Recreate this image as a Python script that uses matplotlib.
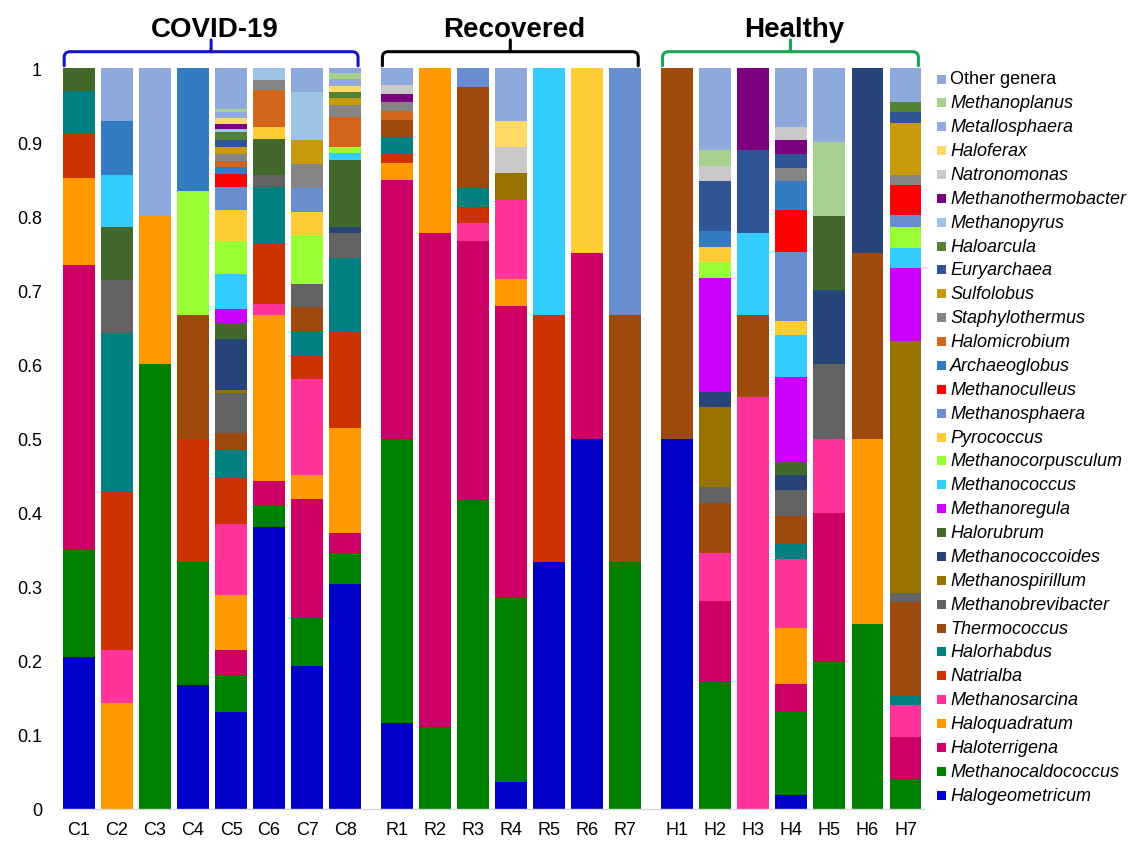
import matplotlib
matplotlib.use("Agg")
import matplotlib.pyplot as plt
from matplotlib.path import Path
from matplotlib.patches import PathPatch, Rectangle
from matplotlib.transforms import blended_transform_factory
import numpy as np

plt.rcParams['font.family'] = ['Liberation Sans', 'DejaVu Sans']

# Stacking order, bottom to top
genera = [
    "Halogeometricum", "Methanocaldococcus", "Haloterrigena", "Haloquadratum",
    "Methanosarcina", "Natrialba", "Halorhabdus", "Thermococcus",
    "Methanobrevibacter", "Methanospirillum", "Methanococcoides", "Halorubrum",
    "Methanoregula", "Methanococcus", "Methanocorpusculum", "Pyrococcus",
    "Methanosphaera", "Methanoculleus", "Archaeoglobus", "Halomicrobium",
    "Staphylothermus", "Sulfolobus", "Euryarchaea", "Haloarcula",
    "Methanopyrus", "Methanothermobacter", "Natronomonas", "Haloferax",
    "Metallosphaera", "Methanoplanus", "Other genera",
]

genus_colors = [
    "#0000C8", "#008000", "#CC0066", "#FF9900",
    "#FF3399", "#CC3300", "#008080", "#9E4A0E",
    "#636363", "#997300", "#264478", "#43682B",
    "#CC00FF", "#33CCFF", "#99FF33", "#FFCC33",
    "#698ED0", "#FF0000", "#337CC4", "#D2651A",
    "#858585", "#C99A0E", "#2F5597", "#548235",
    "#9DC3E6", "#7B0080", "#C9C9C9", "#FFD966",
    "#8FAADC", "#A9D18E", "#8EA9DB",
]

covid_samples = ["C1", "C2", "C3", "C4", "C5", "C6", "C7", "C8"]
recovered_samples = ["R1", "R2", "R3", "R4", "R5", "R6", "R7"]
healthy_samples = ["H1", "H2", "H3", "H4", "H5", "H6", "H7"]

# Relative abundance of each genus per sample
C1 = {"Halogeometricum": 0.205, "Methanocaldococcus": 0.146, "Haloterrigena": 0.383,
      "Haloquadratum": 0.118, "Natrialba": 0.060, "Halorhabdus": 0.057, "Halorubrum": 0.031}
C2 = {"Haloquadratum": 0.143, "Methanosarcina": 0.071, "Natrialba": 0.214, "Halorhabdus": 0.214,
      "Methanobrevibacter": 0.072, "Halorubrum": 0.071, "Methanococcus": 0.071,
      "Archaeoglobus": 0.072, "Other genera": 0.072}
C3 = {"Methanocaldococcus": 0.600, "Haloquadratum": 0.200, "Other genera": 0.200}
C4 = {"Halogeometricum": 0.167, "Methanocaldococcus": 0.166, "Natrialba": 0.167,
      "Thermococcus": 0.167, "Methanocorpusculum": 0.167, "Archaeoglobus": 0.166}
C5 = {"Halogeometricum": 0.131, "Methanocaldococcus": 0.050, "Haloterrigena": 0.033,
      "Haloquadratum": 0.075, "Methanosarcina": 0.096, "Natrialba": 0.062, "Halorhabdus": 0.038,
      "Thermococcus": 0.023, "Methanobrevibacter": 0.054, "Methanospirillum": 0.004,
      "Methanococcoides": 0.068, "Halorubrum": 0.022, "Methanoregula": 0.019,
      "Methanococcus": 0.047, "Methanocorpusculum": 0.044, "Pyrococcus": 0.043,
      "Methanosphaera": 0.031, "Methanoculleus": 0.017, "Archaeoglobus": 0.010,
      "Halomicrobium": 0.007, "Staphylothermus": 0.010, "Sulfolobus": 0.010,
      "Euryarchaea": 0.009, "Haloarcula": 0.010, "Methanopyrus": 0.005,
      "Methanothermobacter": 0.007, "Haloferax": 0.008, "Metallosphaera": 0.008,
      "Methanoplanus": 0.003, "Other genera": 0.056}
C6 = {"Halogeometricum": 0.380, "Methanocaldococcus": 0.030, "Haloterrigena": 0.033,
      "Haloquadratum": 0.224, "Methanosarcina": 0.015, "Natrialba": 0.080, "Halorhabdus": 0.078,
      "Methanobrevibacter": 0.016, "Halorubrum": 0.048, "Pyrococcus": 0.017,
      "Halomicrobium": 0.049, "Staphylothermus": 0.014, "Methanopyrus": 0.016}
C7 = {"Halogeometricum": 0.193, "Methanocaldococcus": 0.065, "Haloterrigena": 0.161,
      "Haloquadratum": 0.032, "Methanosarcina": 0.129, "Natrialba": 0.032, "Halorhabdus": 0.032,
      "Thermococcus": 0.033, "Methanobrevibacter": 0.032, "Methanocorpusculum": 0.065,
      "Pyrococcus": 0.032, "Methanosphaera": 0.032, "Staphylothermus": 0.032,
      "Sulfolobus": 0.033, "Methanopyrus": 0.065, "Other genera": 0.032}
C8 = {"Halogeometricum": 0.304, "Methanocaldococcus": 0.042, "Haloterrigena": 0.026,
      "Haloquadratum": 0.142, "Natrialba": 0.130, "Halorhabdus": 0.100,
      "Methanobrevibacter": 0.034, "Methanococcoides": 0.008, "Halorubrum": 0.090,
      "Methanococcus": 0.009, "Methanocorpusculum": 0.008, "Halomicrobium": 0.041,
      "Staphylothermus": 0.016, "Sulfolobus": 0.010, "Haloarcula": 0.008, "Haloferax": 0.008,
      "Metallosphaera": 0.009, "Methanoplanus": 0.008, "Other genera": 0.007}

R1 = {"Halogeometricum": 0.116, "Methanocaldococcus": 0.384, "Haloterrigena": 0.349,
      "Haloquadratum": 0.023, "Natrialba": 0.012, "Halorhabdus": 0.023, "Thermococcus": 0.023,
      "Staphylothermus": 0.012, "Halomicrobium": 0.012, "Methanothermobacter": 0.011,
      "Natronomonas": 0.012, "Other genera": 0.023}
R2 = {"Methanocaldococcus": 0.111, "Haloterrigena": 0.667, "Haloquadratum": 0.222}
R3 = {"Methanocaldococcus": 0.417, "Haloterrigena": 0.349, "Methanosarcina": 0.025,
      "Natrialba": 0.022, "Halorhabdus": 0.025, "Thermococcus": 0.137, "Methanosphaera": 0.025}
R4 = {"Halogeometricum": 0.036, "Methanocaldococcus": 0.250, "Haloterrigena": 0.393,
      "Haloquadratum": 0.036, "Methanosarcina": 0.107, "Methanospirillum": 0.036,
      "Natronomonas": 0.035, "Haloferax": 0.036, "Other genera": 0.071}
R5 = {"Halogeometricum": 0.333, "Natrialba": 0.334, "Methanococcus": 0.333}
R6 = {"Halogeometricum": 0.500, "Haloterrigena": 0.250, "Pyrococcus": 0.250}
R7 = {"Methanocaldococcus": 0.333, "Thermococcus": 0.334, "Methanosphaera": 0.333}

H1 = {"Halogeometricum": 0.500, "Thermococcus": 0.500}
H2 = {"Methanocaldococcus": 0.171, "Haloterrigena": 0.110, "Methanosarcina": 0.065,
      "Thermococcus": 0.067, "Methanobrevibacter": 0.021, "Methanospirillum": 0.108,
      "Methanococcoides": 0.021, "Methanoregula": 0.154, "Methanocorpusculum": 0.021,
      "Pyrococcus": 0.021, "Archaeoglobus": 0.021, "Euryarchaea": 0.067,
      "Natronomonas": 0.021, "Methanoplanus": 0.022, "Other genera": 0.110}
H3 = {"Methanosarcina": 0.556, "Thermococcus": 0.111, "Methanococcus": 0.111,
      "Euryarchaea": 0.111, "Methanothermobacter": 0.111}
H4 = {"Halogeometricum": 0.019, "Methanocaldococcus": 0.112, "Haloterrigena": 0.038,
      "Haloquadratum": 0.075, "Methanosarcina": 0.094, "Halorhabdus": 0.019,
      "Thermococcus": 0.038, "Methanobrevibacter": 0.036, "Methanococcoides": 0.020,
      "Halorubrum": 0.017, "Methanoregula": 0.115, "Methanococcus": 0.057,
      "Pyrococcus": 0.018, "Methanosphaera": 0.094, "Methanoculleus": 0.057,
      "Archaeoglobus": 0.038, "Staphylothermus": 0.018, "Euryarchaea": 0.019,
      "Methanothermobacter": 0.019, "Natronomonas": 0.018, "Other genera": 0.079}
H5 = {"Methanocaldococcus": 0.200, "Haloterrigena": 0.200, "Methanosarcina": 0.100,
      "Methanobrevibacter": 0.100, "Methanococcoides": 0.100, "Halorubrum": 0.100,
      "Methanoplanus": 0.100, "Other genera": 0.100}
H6 = {"Methanocaldococcus": 0.250, "Haloquadratum": 0.250, "Thermococcus": 0.250,
      "Methanococcoides": 0.250}
H7 = {"Methanocaldococcus": 0.040, "Haloterrigena": 0.057, "Methanosarcina": 0.043,
      "Halorhabdus": 0.013, "Thermococcus": 0.126, "Methanobrevibacter": 0.013,
      "Methanospirillum": 0.339, "Methanoregula": 0.099, "Methanococcus": 0.027,
      "Methanocorpusculum": 0.028, "Methanosphaera": 0.016, "Methanoculleus": 0.041,
      "Staphylothermus": 0.013, "Sulfolobus": 0.071, "Euryarchaea": 0.015,
      "Haloarcula": 0.013, "Other genera": 0.046}

y_ticks = [0, 0.1, 0.2, 0.3, 0.4, 0.5, 0.6, 0.7, 0.8, 0.9, 1]
y_tick_labels = ["0", "0.1", "0.2", "0.3", "0.4", "0.5", "0.6", "0.7", "0.8", "0.9", "1"]

group_titles = ["COVID-19", "Recovered", "Healthy"]
group_colors = ["#1414C4", "#000000", "#17A653"]

# ---------------------------------------------------------------------------
compositions = [C1, C2, C3, C4, C5, C6, C7, C8,
                R1, R2, R3, R4, R5, R6, R7,
                H1, H2, H3, H4, H5, H6, H7]
groups = [covid_samples, recovered_samples, healthy_samples]
group_gap = 1.37

positions = []
group_spans = []
start = 0.0
for g in groups:
    xs = [start + i for i in range(len(g))]
    positions.extend(xs)
    group_spans.append((xs[0], xs[-1]))
    start = xs[-1] + group_gap
positions = np.array(positions)
sample_names = covid_samples + recovered_samples + healthy_samples

abund = np.array([[comp.get(gname, 0.0) for comp in compositions] for gname in genera])

W, H = 1141, 845
fig = plt.figure(figsize=(W / 100, H / 100), dpi=100)
ax = fig.add_axes([60 / W, 35 / H, 864.5 / W, 741 / H])

bottom = np.zeros(len(compositions))
bar_w = 0.84
for gname, col, vals in zip(genera, genus_colors, abund):
    ax.bar(positions, vals, bottom=bottom, width=bar_w, color=col, linewidth=0)
    bottom += vals

ax.set_xlim(-0.5, positions[-1] + 0.5)
ax.set_ylim(0, 1)
ax.set_yticks(y_ticks)
ax.set_yticklabels(y_tick_labels)
ax.set_xticks(positions)
ax.set_xticklabels(sample_names)
ax.tick_params(axis='both', length=0, labelsize=13, colors='black')
ax.tick_params(axis='y', pad=13)
ax.tick_params(axis='x', pad=9)
for side in ['top', 'right', 'left']:
    ax.spines[side].set_visible(False)
ax.spines['bottom'].set_color('#D9D9D9')
ax.spines['bottom'].set_linewidth(1.0)

# Group brackets and titles above the bars
trans = blended_transform_factory(ax.transData, ax.transAxes)
y_end, y_bar, y_tip = 1.003, 1.022, 1.038
rx, ry = 0.15, 0.008
for (x_first, x_last), title, col in zip(group_spans, group_titles, group_colors):
    x0 = x_first - bar_w / 2 + 0.03
    x1 = x_last + bar_w / 2 - 0.08
    xm = (x0 + x1) / 2
    verts = [(x0, y_end), (x0, y_bar - ry), (x0, y_bar), (x0 + rx, y_bar),
             (x1 - rx, y_bar), (x1, y_bar), (x1, y_bar - ry), (x1, y_end),
             (xm, y_bar), (xm, y_tip)]
    codes = [Path.MOVETO, Path.LINETO, Path.CURVE3, Path.CURVE3,
             Path.LINETO, Path.CURVE3, Path.CURVE3, Path.LINETO,
             Path.MOVETO, Path.LINETO]
    ax.add_patch(PathPatch(Path(verts, codes), transform=trans, fill=False,
                           edgecolor=col, linewidth=2.2, clip_on=False,
                           capstyle='round', joinstyle='round'))
    ax.text(xm + 0.1, 1.053, title, transform=trans, ha='center', va='center',
            fontsize=20, fontweight='bold', color='black')

# Legend: top entry is the last stacked genus
row0_y, row_step = 80, 23.87
for i, idx in enumerate(range(len(genera) - 1, -1, -1)):
    yc = row0_y + i * row_step
    fig.patches.append(Rectangle(((937) / W, 1 - (yc + 4.5) / H), 9 / W, 9 / H,
                                 transform=fig.transFigure, facecolor=genus_colors[idx],
                                 edgecolor='none'))
    style = 'normal' if genera[idx] == "Other genera" else 'italic'
    fig.text(950 / W, 1 - yc / H, genera[idx], ha='left', va='center',
             fontsize=13, fontstyle=style, color='black')

fig.savefig("out.png", dpi=100)
